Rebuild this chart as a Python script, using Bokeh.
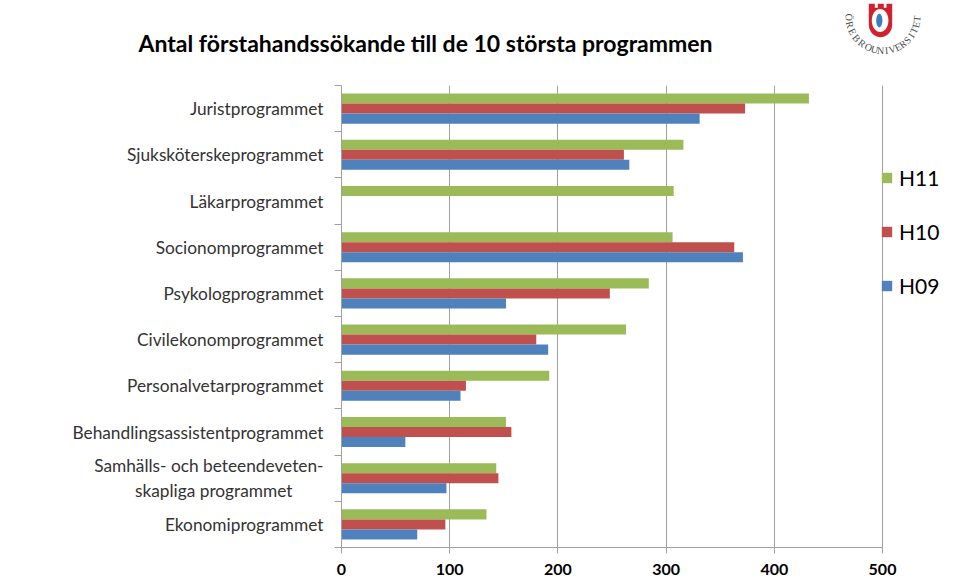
import math
import numpy as np
from bokeh.plotting import figure
from bokeh.layouts import column
from bokeh.models import (FactorRange, Range1d, LinearAxis, CategoricalAxis, FixedTicker,
                          Legend, LegendItem, ColumnDataSource)
from bokeh.transform import dodge
from bokeh.core.properties import value
from bokeh.embed import file_html
from bokeh.resources import INLINE

# ---------------- data ----------------
categories = [
    "Juristprogrammet",
    "Sjuksköterskeprogrammet",
    "Läkarprogrammet",
    "Socionomprogrammet",
    "Psykologprogrammet",
    "Civilekonomprogrammet",
    "Personalvetarprogrammet",
    "Behandlingsassistentprogrammet",
    "Samhälls- och beteendeveten-\nskapliga programmet" + "\u00a0" * 7,
    "Ekonomiprogrammet",
]
h11 = [432, 316, 307, 306, 284, 263, 192, 152, 143, 134]
h10 = [373, 261, np.nan, 363, 248, 180, 115, 157, 145, 96]
h09 = [331, 266, np.nan, 371, 152, 191, 110, 59, 97, 70]
series_names = ["H11", "H10", "H09"]
series_colors = ["#9BBB59", "#C0504D", "#4F81BD"]
x_ticks = [0, 100, 200, 300, 400, 500]
title_text = "Antal förstahandssökande till de 10 största programmen"
logo_words = ["ÖREBRO", "UNIVERSITET"]

FONT = "Lato"
GRID = "#A0A0A0"

W = 957
HEAD_H = 85
CH_H = 494
FL = 341            # frame left
FRAME_W = W - FL    # frame reaches right edge; x axis itself bounded to 0..500
PX500 = 541         # pixels for 0..500
FB = 32
frame_h = CH_H - FB


def no_align(fig):
    try:
        fig.frame_align = False
    except Exception:
        pass


# ---------------- header (title + logo) ----------------
head = figure(width=W, height=HEAD_H, output_backend="svg", toolbar_location=None,
              x_range=Range1d(0, W), y_range=Range1d(HEAD_H, 0),
              min_border=0, x_axis_location=None, y_axis_location=None)
no_align(head)
head.outline_line_color = None
head.grid.grid_line_color = None
head.background_fill_color = "white"
head.border_fill_color = "white"

head.text(x=[138], y=[42], text=[title_text], text_font=value(FONT), text_font_style="bold",
          text_font_size="23px", text_color="black", text_baseline="middle", text_align="left")

# logo shapes (decoration, page pixel coordinates)
shield = [(868.3, 3.3), (874.3, 3.3), (874.3, 7.3), (877.3, 7.3), (877.3, 3.3), (883.3, 3.3),
          (883.3, 7.3), (886, 7.3), (886, 3.3), (891.7, 3.3), (891.7, 24)]
for k in range(1, 20):
    a = math.pi * k / 20
    shield.append((880 + 11.7 * math.cos(a), 24 + 12.7 * math.sin(a)))
shield.append((868.3, 24))


def ellipse(cx, cy, rx, ry, n=40):
    return ([cx + rx * math.cos(2 * math.pi * k / n) for k in range(n)],
            [cy + ry * math.sin(2 * math.pi * k / n) for k in range(n)])


head.patch([a for a, b in shield], [b for a, b in shield], fill_color="#D2212E", line_color=None)
ex, ey = ellipse(879.6, 20, 8.3, 11.5)
head.patch(ex, ey, fill_color="white", line_color=None)
ex, ey = ellipse(878.8, 20, 3.1, 6.8)
head.patch(ex, ey, fill_color="#3A7EC1", line_color=None)

lx, ly, lt, la = [], [], [], []
ccx, ccy, rad = 882.5, 16, 34
starts, steps = [178.8, 104.2], [12.7, 10.04]
for word, st, sp in zip(logo_words, starts, steps):
    for j, ch in enumerate(word):
        phi = math.radians(st - j * sp)
        lx.append(ccx + rad * math.cos(phi))
        ly.append(ccy + rad * math.sin(phi))
        lt.append(ch)
        la.append(math.pi / 2 - phi)
head.text(x=lx, y=ly, text=lt, angle=la, text_font=value("Liberation Serif"),
          text_font_size="10px", text_color="#4A4A4A", text_align="center", text_baseline="middle")

# ---------------- chart ----------------
source = ColumnDataSource(dict(cat=categories, H11=h11, H10=h10, H09=h09))
x_end = 500 * FRAME_W / PX500

p = figure(width=W, height=CH_H, output_backend="svg", toolbar_location=None,
           y_range=FactorRange(*reversed(categories)), x_range=Range1d(0, x_end),
           min_border_left=FL, min_border_right=0, min_border_top=0, min_border_bottom=FB,
           y_axis_location=None)
no_align(p)
p.outline_line_color = None
p.background_fill_color = "white"
p.border_fill_color = "white"

bar_h = 10 / 46
offsets = [bar_h, 0, -bar_h]
renderers = []
for name, col, off in zip(series_names, series_colors, offsets):
    r = p.hbar(y=dodge("cat", off, range=p.y_range), left=0, right=name, height=bar_h,
               source=source, fill_color=col, line_color=None)
    renderers.append(r)

xa = p.xaxis[0]
xa.ticker = FixedTicker(ticks=x_ticks)
xa.bounds = (0, 500)
xa.axis_line_color = GRID
xa.major_tick_line_color = GRID
xa.major_tick_out = 6
xa.major_tick_in = 0
xa.minor_tick_line_color = None
xa.major_label_text_font = FONT
xa.major_label_text_font_style = "bold"
xa.major_label_text_font_size = "16px"
xa.major_label_text_color = "black"
xa.major_label_standoff = 10
p.xgrid.ticker = FixedTicker(ticks=x_ticks)
p.xgrid.grid_line_color = GRID
p.ygrid.grid_line_color = None

ytick = LinearAxis(ticker=FixedTicker(ticks=list(range(len(categories) + 1))),
                   major_label_overrides={i: "" for i in range(len(categories) + 1)},
                   major_label_text_font_size="0px", major_label_standoff=0,
                   major_tick_out=7, major_tick_in=0, axis_line_color=GRID,
                   major_tick_line_color=GRID, minor_tick_line_color=None)
p.add_layout(ytick, "left")
ylab = CategoricalAxis(major_tick_line_color=None, major_tick_out=0, major_tick_in=0,
                       axis_line_color=None, major_label_standoff=11,
                       major_label_text_font=FONT, major_label_text_font_size="17.3px",
                       major_label_text_color="#333333")
p.add_layout(ylab, "left")

frame_bottom_page = HEAD_H + frame_h
legend = Legend(items=[LegendItem(label=nm, renderers=[r]) for nm, r in zip(series_names, renderers)],
                location=(539, frame_bottom_page - 297.5), orientation="vertical",
                glyph_width=13, glyph_height=13,
                label_text_font=FONT, label_text_font_size="21px", label_text_color="black",
                label_height=25, spacing=29, padding=0, margin=0, label_standoff=6,
                border_line_color=None, background_fill_alpha=0)
p.add_layout(legend)

layout = column(head, p, spacing=0)
open("out.html", "w").write(file_html(layout, INLINE))
